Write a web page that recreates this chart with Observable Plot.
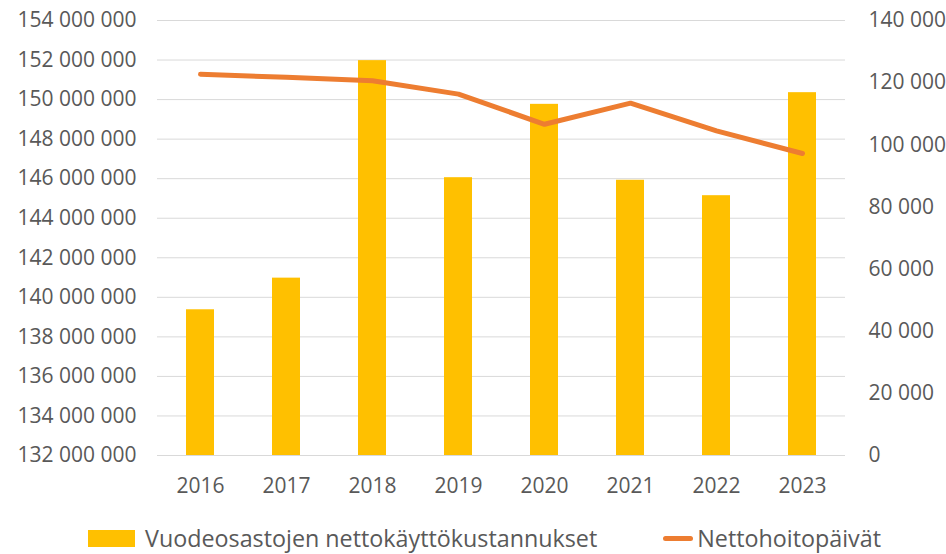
<!DOCTYPE html>
<html>
<head>
<meta charset="utf-8">
<script src="https://cdn.jsdelivr.net/npm/d3@7"></script>
<script src="https://cdn.jsdelivr.net/npm/@observablehq/plot@0.6"></script>
<style>
  body { margin: 0; background: #fff; font-family: "Open Sans", sans-serif; color: #595959; }
  #chart { position: relative; width: 946px; height: 554px; }
  .legend { position: absolute; top: 523px; left: 88px; display: flex; align-items: center; font-size: 23.3px; line-height: 30px; color: #595959; white-space: nowrap; }
  .sw-bar { width: 47px; height: 17px; background: #FFC000; margin-right: 10px; }
  .sw-line { width: 30px; height: 5px; border-radius: 3px; background: #ED7D31; margin-left: 66px; margin-right: 4px; }
</style>
</head>
<body>
<div id="chart"></div>
<script>
const years = ["2016","2017","2018","2019","2020","2021","2022","2023"];
const costs = [139370000, 140970000, 151970000, 146050000, 149760000, 145920000, 145140000, 150350000];
const days = [122700, 121700, 120600, 116300, 106600, 113400, 104500, 97200];
const leftTicks = [132e6,134e6,136e6,138e6,140e6,142e6,144e6,146e6,148e6,150e6,152e6,154e6];
const rightTicks = [0,20000,40000,60000,80000,100000,120000,140000];
const seriesNames = ["Vuodeosastojen nettokäyttökustannukset", "Nettohoitopäivät"];

const yMin = 132e6, yMax = 154e6, rMax = 140000;
const toLeft = v => yMin + v / rMax * (yMax - yMin);
const fromLeft = v => (v - yMin) / (yMax - yMin) * rMax;
const loc = d3.formatLocale({decimal: ",", thousands: "\u00a0", grouping: [3], currency: ["", ""]});
const fmt = loc.format(",d");

const data = years.map((y, i) => ({year: y, cost: costs[i], days: days[i], dl: toLeft(days[i])}));

const plot = Plot.plot({
  width: 946,
  height: 512,
  marginLeft: 157,
  marginRight: 101,
  marginTop: 20,
  marginBottom: 57,
  style: {fontFamily: "Open Sans, sans-serif", fontSize: "21px", color: "#595959", background: "#fff"},
  x: {domain: years, paddingInner: 0.67, paddingOuter: 0.335, label: null},
  y: {domain: [yMin, yMax], label: null},
  marks: [
    Plot.gridY(leftTicks, {stroke: "#d9d9d9", strokeOpacity: 1, strokeWidth: 1}),
    Plot.barY(data, {x: "year", y1: yMin, y2: "cost", fill: "#FFC000"}),
    Plot.line(data, {x: "year", y: "dl", stroke: "#ED7D31", strokeWidth: 5, strokeLinecap: "round", strokeLinejoin: "round"}),
    Plot.axisY({ticks: leftTicks, tickSize: 0, tickPadding: 21, tickFormat: fmt, label: null, fill: "#595959"}),
    Plot.axisY({anchor: "right", ticks: rightTicks.map(toLeft), tickSize: 0, tickPadding: 23, tickFormat: d => fmt(Math.round(fromLeft(d))), label: null, fill: "#595959"}),
    Plot.axisX({tickSize: 0, tickPadding: 23, label: null, fill: "#595959"})
  ]
});
const chart = document.getElementById("chart");
chart.appendChild(plot);
const lg = document.createElement("div");
lg.className = "legend";
lg.innerHTML = `<div class="sw-bar"></div><span>${seriesNames[0]}</span><div class="sw-line"></div><span>${seriesNames[1]}</span>`;
chart.appendChild(lg);
</script>
</body>
</html>
